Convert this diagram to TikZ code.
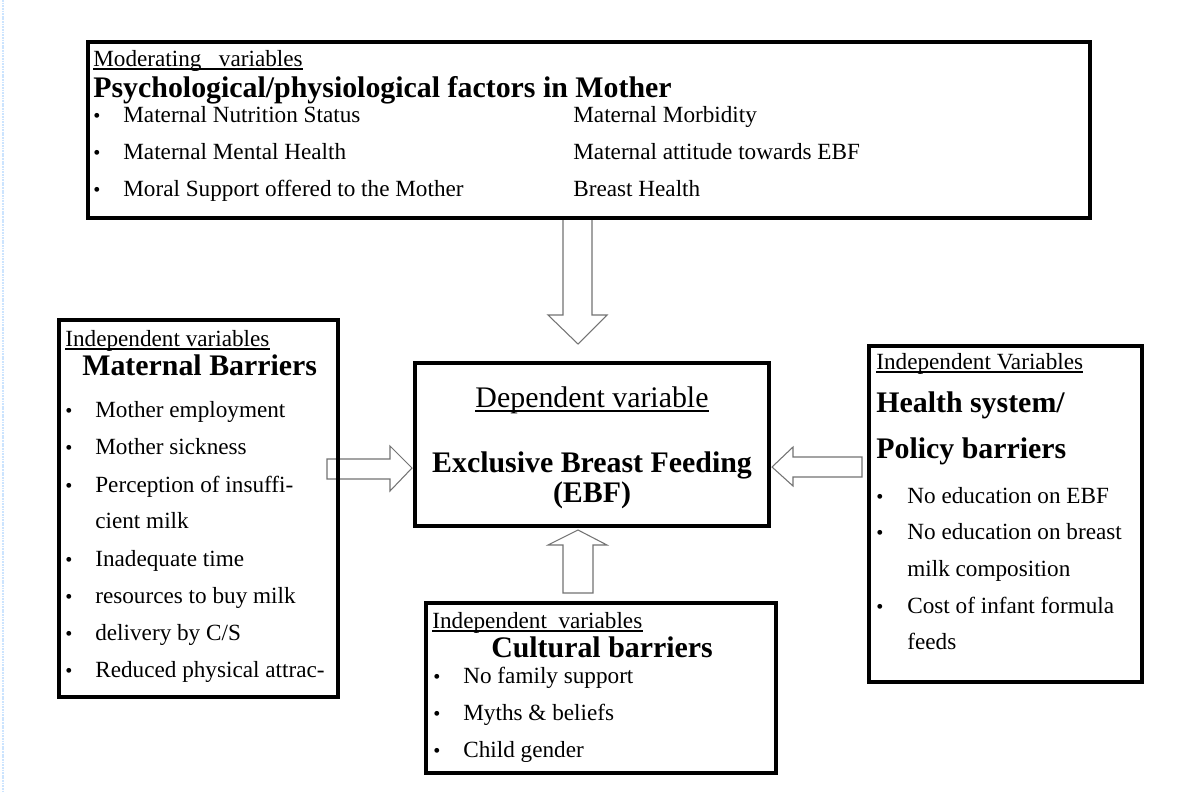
\documentclass[tikz,border=0pt]{standalone}
\usepackage{fontspec}
\setmainfont{Liberation Serif}
\usetikzlibrary{calc}

\definecolor{margin blue}{RGB}{204,228,254}

\tikzset{
  box/.style = {line width = 2.3pt},
  fat/.style = {draw = black!55, fill = white, line width = .6pt},
  txt/.style = {inner sep = 0pt, anchor = base west,
    font = \fontsize{13.2}{15}\selectfont},
  head/.style = {inner sep = 0pt, anchor = base west,
    font = \fontsize{17}{20}\selectfont\bfseries},
  dot/.style = {inner sep = 0pt, anchor = base,
    font = \fontsize{11.5}{13}\selectfont},
  uline/.style = {line width = .6pt}
}

\begin{document}
\begin{tikzpicture}[x = 0.02cm, y = -0.02cm]
  \useasboundingbox (0, 0) rectangle (1202, 791);
  \fill[white] (0, 0) rectangle (1202, 791);
  \draw[margin blue, line width = 1.2pt, dash pattern = on 1pt off .5pt]
  (3, 0) -- (3, 791);

  % block arrows
  \draw[fat] (563, 218) -- (563, 315) -- (548, 315) -- (578, 344)
  -- (607, 315) -- (592, 315) -- (592, 218);
  \draw[fat] (327, 459) -- (390, 459) -- (390, 446) -- (412, 468)
  -- (390, 491) -- (390, 479) -- (327, 479) -- cycle;
  \draw[fat] (862, 457) -- (793, 457) -- (793, 447) -- (772, 467)
  -- (793, 486) -- (793, 477) -- (862, 477) -- cycle;
  \draw[fat] (563, 593) -- (563, 545) -- (548, 545) -- (578, 530)
  -- (607, 545) -- (593, 545) -- (593, 593) -- cycle;

  % boxes
  \draw[box] (88, 42) coordinate (mod nw) rectangle (1090, 218)
  coordinate (mod se);
  \draw[box] (415, 363) coordinate (ebf nw) rectangle (769, 526)
  coordinate (ebf se);
  \draw[box] (59, 320) coordinate (mat nw) rectangle (338, 697)
  coordinate (mat se);
  \draw[box] (869, 346) coordinate (hs nw) rectangle (1142, 682)
  coordinate (hs se);
  \draw[box] (426, 603) coordinate (cul nw) rectangle (776, 773)
  coordinate (cul se);

  % moderating variables
  \node[txt] (mod label) at (93, 66) {Moderating\ \ \ variables};
  \draw[uline] ($(mod label.base west) + (0, 3)$) --
  ($(mod label.base east) + (0, 3)$);
  \node[head] (mod title) at (93, 97)
  {Psychological/physiological factors in Mother};
  \foreach \y/\txt [count = \i] in {122/Maternal Nutrition Status,
    159/Maternal Mental Health, 196/Moral Support offered to the Mother} {
    \node[dot] (mod dot \i) at (97, \y) {•};
    \node[txt] (mod item \i) at (123, \y) {\txt};
  }
  \foreach \y/\txt [count = \i] in {122/Maternal Morbidity,
    159/Maternal attitude towards EBF, 196/Breast Health}
  \node[txt] (mod right \i) at (573, \y) {\txt};

  % dependent variable
  \node[inner sep = 0pt, anchor = base, font = \fontsize{17}{20}\selectfont]
  (ebf label) at (592, 407) {Dependent variable};
  \draw[uline] ($(ebf label.base west) + (0, 4)$) --
  ($(ebf label.base east) + (0, 4)$);
  \node[head, anchor = base] (ebf title) at (592, 472)
  {Exclusive Breast Feeding};
  \node[head, anchor = base] (ebf abbr) at (592, 502) {(EBF)};

  % maternal barriers
  \node[txt] (mat label) at (65, 346) {Independent variables};
  \draw[uline] ($(mat label.base west) + (0, 3)$) --
  ($(mat label.base east) + (0, 3)$);
  \node[head] (mat title) at (82, 375) {Maternal Barriers};
  \foreach \y/\txt [count = \i] in {417/Mother employment,
    454/Mother sickness, 492/Perception of insuffi-, 566/Inadequate time,
    603/resources to buy milk, 640/{delivery by C/S},
    677/Reduced physical attrac-} {
    \node[dot] (mat dot \i) at (69, \y) {•};
    \node[txt] (mat item \i) at (95, \y) {\txt};
  }
  \node[txt] (mat wrap) at (95, 528) {cient milk};

  % health system barriers
  \node[txt] (hs label) at (876, 369) {Independent Variables};
  \draw[uline] ($(hs label.base west) + (0, 3)$) --
  ($(hs label.base east) + (0, 3)$);
  \node[head] (hs title) at (876, 412) {Health system/};
  \node[head] (hs title b) at (876, 458) {Policy barriers};
  \foreach \y/\txt [count = \i] in {503/No education on EBF,
    539/No education on breast, 613/Cost of infant formula} {
    \node[dot] (hs dot \i) at (880, \y) {•};
    \node[txt] (hs item \i) at (907, \y) {\txt};
  }
  \node[txt] (hs wrap a) at (907, 576) {milk composition};
  \node[txt] (hs wrap b) at (907, 649) {feeds};

  % cultural barriers
  \node[txt] (cul label) at (432, 628) {Independent\ \ variables};
  \draw[uline] ($(cul label.base west) + (0, 3)$) --
  ($(cul label.base east) + (0, 3)$);
  \node[head, anchor = base] (cul title) at (602, 657) {Cultural barriers};
  \foreach \y/\txt [count = \i] in {683/No family support,
    720/Myths \& beliefs, 757/Child gender} {
    \node[dot] (cul dot \i) at (437, \y) {•};
    \node[txt] (cul item \i) at (463, \y) {\txt};
  }
\end{tikzpicture}
\end{document}
